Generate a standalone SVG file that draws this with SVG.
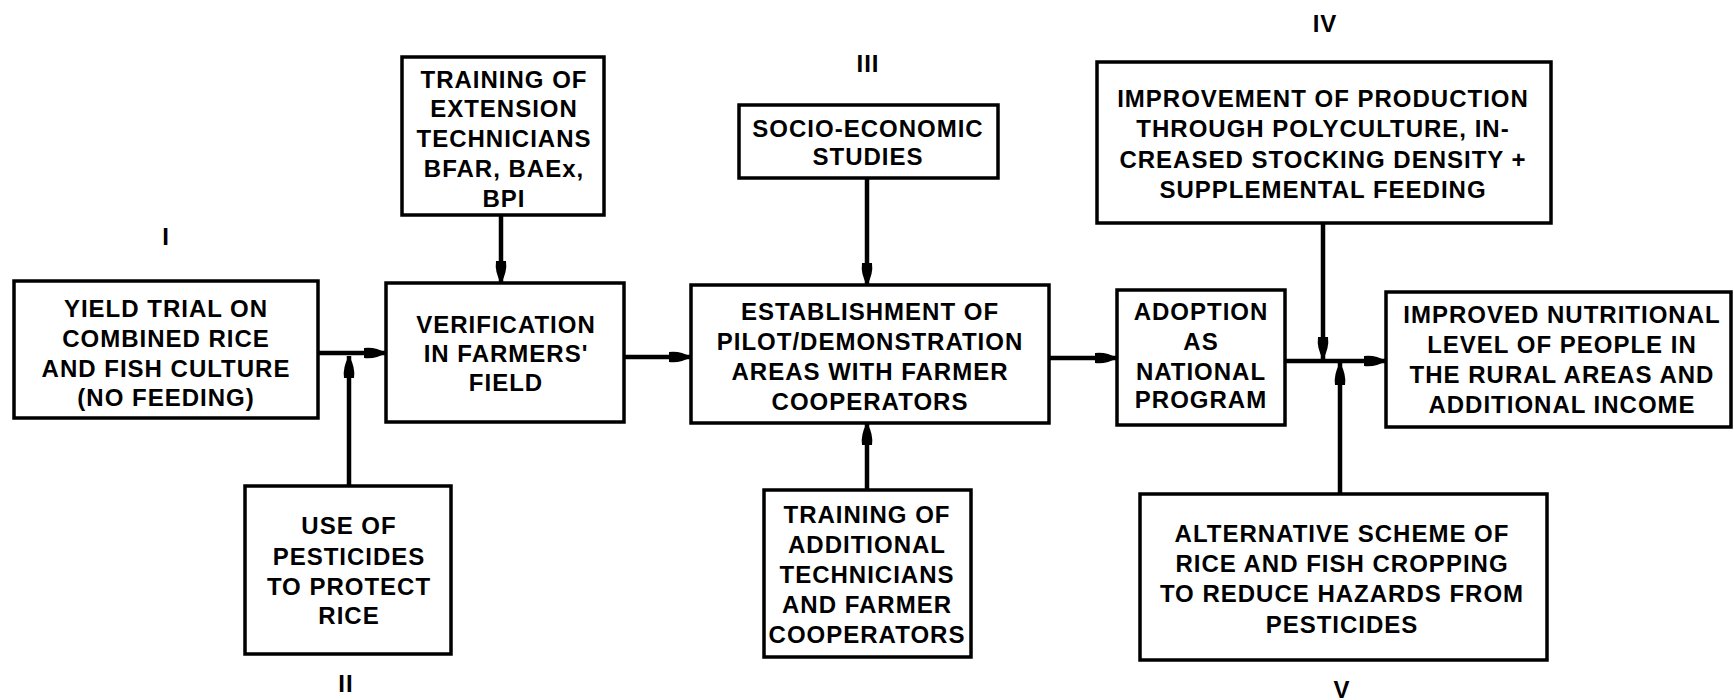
<svg xmlns="http://www.w3.org/2000/svg" width="1734" height="700" viewBox="0 0 1734 700">
<style>
.box{fill:#fff;stroke:#000;stroke-width:3.5}
.t{font-family:"Liberation Sans",Arial,sans-serif;font-weight:bold;font-size:24px;letter-spacing:1px;text-anchor:middle;fill:#000}
.c{stroke:#000;stroke-width:4.5;fill:none;marker-end:url(#ah)}
</style>
<defs>
<marker id="ah" markerUnits="userSpaceOnUse" markerWidth="23" markerHeight="14" refX="22" refY="7" orient="auto">
<path d="M0,2 Q11,0.5 22,7 Q11,13.5 0,12 Z" fill="#000"/>
</marker>
</defs>
<rect width="1734" height="700" fill="#fff"/>
<g id="labels">
<text class="t" x="166" y="245">I</text>
<text class="t" x="346" y="692">II</text>
<text class="t" x="868" y="72">III</text>
<text class="t" x="1325" y="32">IV</text>
<text class="t" x="1342" y="698">V</text>
</g>
<g id="connectors">
<line class="c" x1="318" y1="353" x2="386" y2="353"/>
<line class="c" x1="349" y1="486" x2="349" y2="356"/>
<line class="c" x1="501" y1="215" x2="501" y2="283"/>
<line class="c" x1="624" y1="357" x2="691" y2="357"/>
<line class="c" x1="867" y1="178" x2="867" y2="285"/>
<line class="c" x1="867" y1="490" x2="867" y2="423"/>
<line class="c" x1="1049" y1="358" x2="1117" y2="358"/>
<line class="c" x1="1285" y1="361" x2="1386" y2="361"/>
<line class="c" x1="1323" y1="223" x2="1323" y2="359"/>
<line class="c" x1="1340" y1="494" x2="1340" y2="363"/>
</g>
<g id="yield">
<rect class="box" x="14" y="281" width="304" height="137"/>
<text class="t" x="166"><tspan x="166" y="317">YIELD TRIAL ON</tspan><tspan x="166" y="347">COMBINED RICE</tspan><tspan x="166" y="377">AND FISH CULTURE</tspan><tspan x="166" y="406">(NO FEEDING)</tspan></text>
</g>
<g id="trainingExtension">
<rect class="box" x="402" y="57" width="202" height="158"/>
<text class="t" x="504"><tspan x="504" y="88">TRAINING OF</tspan><tspan x="504" y="117">EXTENSION</tspan><tspan x="504" y="147">TECHNICIANS</tspan><tspan x="504" y="177">BFAR, BAEx,</tspan><tspan x="504" y="207">BPI</tspan></text>
</g>
<g id="verification">
<rect class="box" x="386" y="283" width="238" height="139"/>
<text class="t" x="506"><tspan x="506" y="333">VERIFICATION</tspan><tspan x="506" y="362">IN FARMERS'</tspan><tspan x="506" y="391">FIELD</tspan></text>
</g>
<g id="pesticides">
<rect class="box" x="245" y="486" width="206" height="168"/>
<text class="t" x="349"><tspan x="349" y="534">USE OF</tspan><tspan x="349" y="565">PESTICIDES</tspan><tspan x="349" y="595">TO PROTECT</tspan><tspan x="349" y="624">RICE</tspan></text>
</g>
<g id="socio">
<rect class="box" x="739" y="105" width="259" height="73"/>
<text class="t" x="868"><tspan x="868" y="137">SOCIO-ECONOMIC</tspan><tspan x="868" y="165">STUDIES</tspan></text>
</g>
<g id="establishment">
<rect class="box" x="691" y="285" width="358" height="138"/>
<text class="t" x="870"><tspan x="870" y="320">ESTABLISHMENT OF</tspan><tspan x="870" y="350">PILOT/DEMONSTRATION</tspan><tspan x="870" y="380">AREAS WITH FARMER</tspan><tspan x="870" y="410">COOPERATORS</tspan></text>
</g>
<g id="trainingAdditional">
<rect class="box" x="764" y="490" width="207" height="167"/>
<text class="t" x="867"><tspan x="867" y="523">TRAINING OF</tspan><tspan x="867" y="553">ADDITIONAL</tspan><tspan x="867" y="583">TECHNICIANS</tspan><tspan x="867" y="613">AND FARMER</tspan><tspan x="867" y="643">COOPERATORS</tspan></text>
</g>
<g id="adoption">
<rect class="box" x="1117" y="290" width="168" height="135"/>
<text class="t" x="1201"><tspan x="1201" y="320">ADOPTION</tspan><tspan x="1201" y="350">AS</tspan><tspan x="1201" y="380">NATIONAL</tspan><tspan x="1201" y="408">PROGRAM</tspan></text>
</g>
<g id="improvement">
<rect class="box" x="1097" y="62" width="454" height="161"/>
<text class="t" x="1323"><tspan x="1323" y="107">IMPROVEMENT OF PRODUCTION</tspan><tspan x="1323" y="137">THROUGH POLYCULTURE, IN-</tspan><tspan x="1323" y="168">CREASED STOCKING DENSITY +</tspan><tspan x="1323" y="198">SUPPLEMENTAL FEEDING</tspan></text>
</g>
<g id="improved">
<rect class="box" x="1386" y="292" width="345" height="135"/>
<text class="t" x="1562"><tspan x="1562" y="323">IMPROVED NUTRITIONAL</tspan><tspan x="1562" y="353">LEVEL OF PEOPLE IN</tspan><tspan x="1562" y="383">THE RURAL AREAS AND</tspan><tspan x="1562" y="413">ADDITIONAL INCOME</tspan></text>
</g>
<g id="alternative">
<rect class="box" x="1140" y="494" width="407" height="166"/>
<text class="t" x="1342"><tspan x="1342" y="542">ALTERNATIVE SCHEME OF</tspan><tspan x="1342" y="572">RICE AND FISH CROPPING</tspan><tspan x="1342" y="602">TO REDUCE HAZARDS FROM</tspan><tspan x="1342" y="633">PESTICIDES</tspan></text>
</g>
</svg>
